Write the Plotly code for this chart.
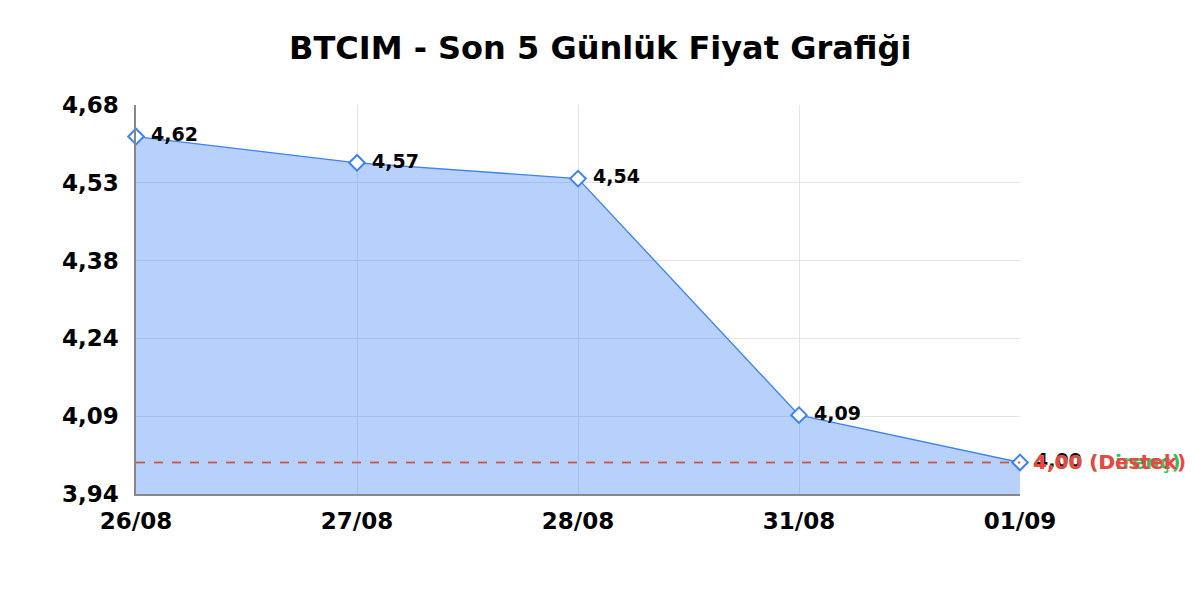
import plotly.graph_objects as go

# data
dates = ["26/08", "27/08", "28/08", "31/08", "01/09"]
prices = [4.62, 4.57, 4.54, 4.09, 4.00]
price_labels = ["4,62", "4,57", "4,54", "4,09", "4,00"]

support = 4.00
resistance = 4.00

y_ticks = [3.94, 4.088, 4.236, 4.384, 4.532, 4.68]
y_tick_labels = ["3,94", "4,09", "4,24", "4,38", "4,53", "4,68"]

blue = "#3b82f6"
font = "DejaVu Sans"

fig = go.Figure()

fig.add_trace(
    go.Scatter(
        x=dates, y=prices,
        mode="lines+markers+text",
        fill="tozeroy",
        fillcolor="rgba(59,130,246,0.37)",
        line=dict(color=blue, width=1.3),
        marker=dict(symbol="diamond", size=12, color="white",
                    line=dict(color=blue, width=2)),
        text=[" " + t for t in price_labels],
        textposition="middle right",
        textfont=dict(family=font, size=19, color="black", weight="bold"),
        cliponaxis=False,
        showlegend=False,
    )
)

# resistance (green) and support (red) lines, red drawn on top
for level, color, name in [(resistance, "#22c55e", "Direnç"), (support, "#ef4444", "Destek")]:
    fig.add_shape(
        type="line", xref="paper", yref="y",
        x0=0, x1=1, y0=level, y1=level,
        line=dict(color=color, width=1.5, dash="dash"),
    )
    fig.add_annotation(
        xref="paper", yref="y", x=1, y=level,
        xanchor="left", yanchor="middle", xshift=11,
        text=f"{level:.2f}".replace(".", ",") + f" ({name})",
        showarrow=False,
        font=dict(family=font, size=20, color=color, weight="bold"),
    )

fig.update_layout(
    width=1200, height=600,
    paper_bgcolor="white", plot_bgcolor="white",
    margin=dict(l=128, r=188, t=97, b=114),
    title=dict(
        text="BTCIM - Son 5 Günlük Fiyat Grafiği",
        x=0.4935, xanchor="center", y=0.933, yanchor="middle",
        font=dict(family=font, size=32, color="black", weight="bold"),
    ),
    font=dict(family=font),
)

fig.update_xaxes(
    type="category", range=[0, 4],
    showgrid=True, gridcolor="#e5e5e5",
    showline=True, linecolor="#888888", linewidth=1.5,
    tickfont=dict(family=font, size=23, color="black", weight="bold"),
    ticks="", ticklabelstandoff=6,
)
fig.update_yaxes(
    range=[3.94, 4.68],
    tickvals=y_ticks, ticktext=y_tick_labels,
    showgrid=True, gridcolor="#e5e5e5",
    showline=True, linecolor="#888888", linewidth=1.5,
    zeroline=False,
    tickfont=dict(family=font, size=23, color="black", weight="bold"),
    ticks="", ticklabelstandoff=11,
)

fig.write_html("out.html")
